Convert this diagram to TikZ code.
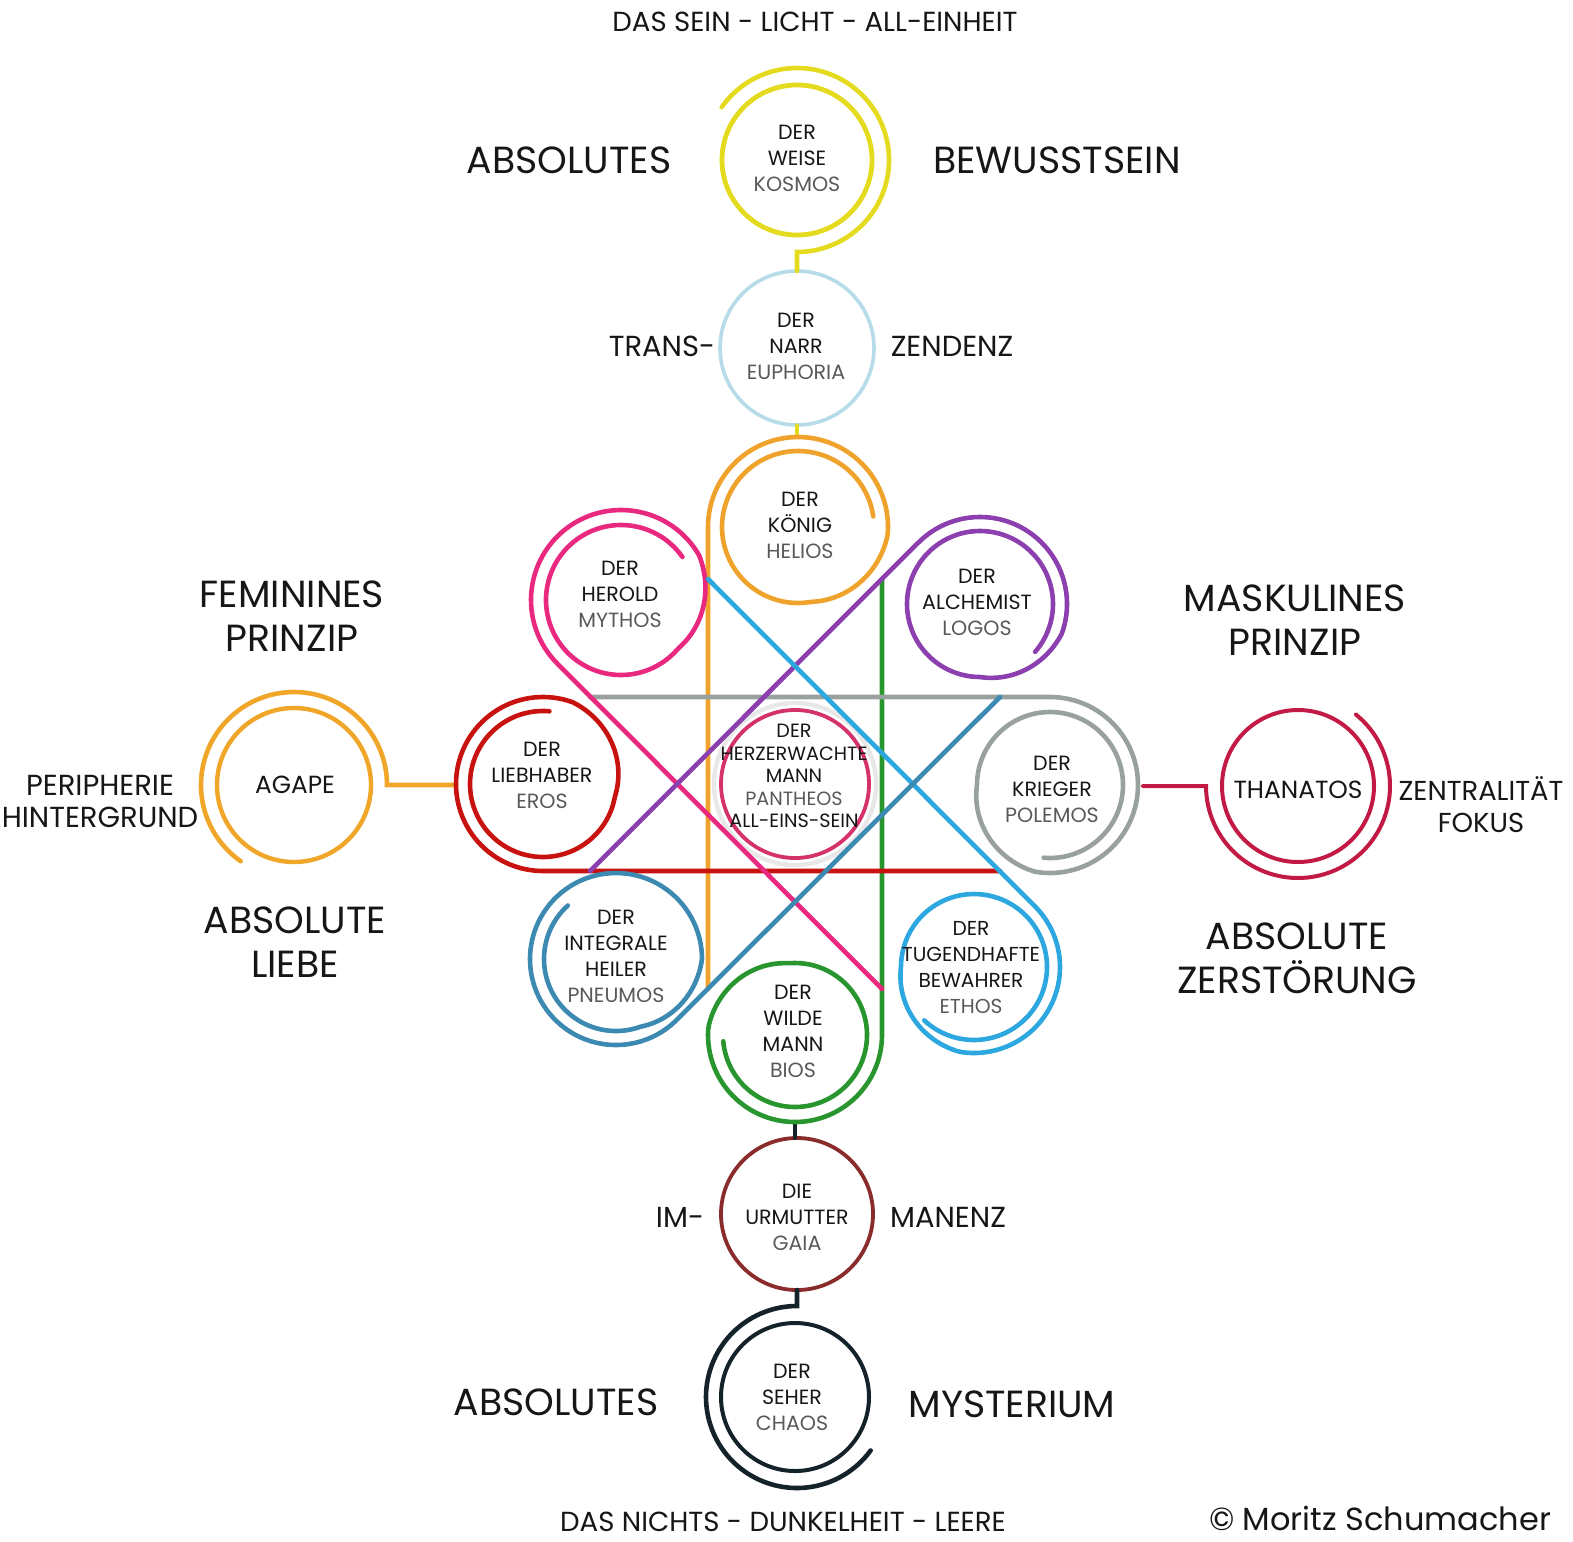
\documentclass[tikz,border=0pt]{standalone}
\usepackage{fontspec}
\setmainfont{Poppins}
\pgfmathdeclarefunction{spr}{5}{\pgfmathparse{#5+(#4-#5)*min(1,max(0,(#1-(#3))/((#2)-(#3))))}}
\newcommand\gk[1]{{\color{black!65}#1}}
\definecolor{cYel}{HTML}{E4DB1E}
\definecolor{cNarr}{HTML}{B7DCE9}
\definecolor{cOra}{HTML}{F0A32C}
\definecolor{cPink}{HTML}{E8297F}
\definecolor{cPur}{HTML}{8C3FAE}
\definecolor{cRed}{HTML}{C8120F}
\definecolor{cGray}{HTML}{99A19E}
\definecolor{cThan}{HTML}{C21A44}
\definecolor{cHerz}{HTML}{D5316A}
\definecolor{cSteel}{HTML}{3C89B1}
\definecolor{cSky}{HTML}{2CA7DF}
\definecolor{cGreen}{HTML}{28952E}
\definecolor{cUr}{HTML}{8A2C2C}
\definecolor{cSeh}{HTML}{142229}
\definecolor{cAgape}{HTML}{F0A628}
\definecolor{cTxt}{HTML}{161616}
\begin{document}
\begin{tikzpicture}[x=0.5pt,y=-0.5pt,line cap=round,
  ring/.style={draw=#1,line width=2.2pt,circle,inner sep=0pt,outer sep=0pt},
  wire/.style={draw=#1,line width=2.3pt},
  lbl/.style={align=center,inner sep=0pt,font=\fontsize{10.3}{13}\selectfont,text=cTxt},
  big/.style={align=center,inner sep=0pt,font=\fontsize{18.9}{22}\selectfont,text=cTxt},
  mid/.style={align=center,inner sep=0pt,font=\fontsize{14.5}{16}\selectfont,text=cTxt},
  head/.style={inner sep=0pt,font=\fontsize{13.8}{15}\selectfont,text=cTxt}]
\useasboundingbox (0,0) rectangle (1573,1541);

% ---- named anchor points
\coordinate (kingfoot) at (708,989);
\coordinate (koenigtop) at (798,437);
\coordinate (pinkfoot) at (882,989);
\coordinate (purfoot) at (590,871);
\coordinate (redend) at (1000,871);
\coordinate (grayend) at (590,697);
\coordinate (steelend) at (1000,697);
\coordinate (skyend) at (708,579);
\coordinate (greentop) at (882,579);
\coordinate (wildebottom) at (795,1122);
\coordinate (kriegerright) at (1143,786);
\coordinate (liebleft) at (456,785);

% ---- full rings
\node[ring=cYel,minimum size=75pt,line width=2.4pt] (weise) at (797,160) {};
\node[ring=cNarr,minimum size=77pt,line width=1.8pt] (narr) at (797,348) {};
\node[ring=black!9,minimum size=81pt,line width=2.2pt] (halo) at (795,784) {};
\node[ring=cUr,minimum size=76pt,line width=1.9pt] (urmutter) at (797,1214) {};
\node[ring=cSeh,minimum size=74pt,line width=2pt] (seher) at (795,1397) {};
\node[ring=cThan,minimum size=76pt,line width=2pt] (thanatos) at (1298,786) {};
\node[ring=cAgape,minimum size=77pt,line width=2.2pt] (agape) at (294,785) {};

% ---- vertical chain connectors and outer arcs
\draw[wire=cYel] plot[domain=215:450,samples=90] ({797+92*cos(\x)},{160+92*sin(\x)}) -- (narr.north);
\draw[wire=cYel,line width=1.6pt] (narr.south) -- (narr.south |- koenigtop);
\draw[wire=cSeh,line width=1.8pt] (wildebottom) -- (wildebottom |- urmutter.north);
\draw[wire=cSeh] plot[domain=36:270,samples=90] ({797+91*cos(\x)},{1397+91*sin(\x)}) -- (urmutter.south);
\draw[wire=cThan,line width=2pt] plot[domain=-51:180,samples=90] ({1298+92*cos(\x)},{786+92*sin(\x)}) -- (kriegerright);
\draw[wire=cAgape] plot[domain=125:360,samples=90] ({294+93*cos(\x)},{785+93*sin(\x)}) -- (liebleft);

% ---- spirals with their lines
\draw[wire=cOra] (kingfoot) -- plot[domain=180:712,samples=170] ({798+spr(\x,365,440,90,76)*cos(\x)},{527+spr(\x,365,440,90,76)*sin(\x)});
\draw[wire=cGreen] (greentop) -- plot[domain=0:535,samples=170] ({795+spr(\x,185,265,87,72)*cos(\x)},{1035+spr(\x,185,265,87,72)*sin(\x)});
\draw[wire=cGray] (grayend) -- plot[domain=270:815,samples=170] ({1050+spr(\x,460,540,88,73)*cos(\x)},{785+spr(\x,460,540,88,73)*sin(\x)});
\draw[wire=cRed] (redend) -- plot[domain=90:635,samples=170] ({543+spr(\x,290,370,87,73)*cos(\x)},{784+spr(\x,290,370,87,73)*sin(\x)});
\draw[wire=cPink] (pinkfoot) -- plot[domain=135:685,samples=170] ({621+spr(\x,330,400,90,75)*cos(\x)},{600+spr(\x,330,400,90,75)*sin(\x)});
\draw[wire=cPur] (purfoot) -- plot[domain=225:761,samples=170] ({980+spr(\x,380,450,87,73)*cos(\x)},{604+spr(\x,380,450,87,73)*sin(\x)});
\draw[wire=cSky] (skyend) -- plot[domain=315:853,samples=170] ({974+spr(\x,460,540,86,73)*cos(\x)},{967+spr(\x,460,540,86,73)*sin(\x)});
\draw[wire=cSteel] (steelend) -- plot[domain=45:588,samples=170] ({616+spr(\x,360,430,86,72)*cos(\x)},{959+spr(\x,360,430,86,72)*sin(\x)});

\node[ring=cHerz,minimum size=74pt,line width=1.9pt] (herz) at (795,784) {};

% ---- circle texts
\node[lbl] (t-weise) at (797,158) {DER\\WEISE\\\gk{KOSMOS}};
\node[lbl] (t-narr) at (796,346) {DER\\NARR\\\gk{EUPHORIA}};
\node[lbl] (t-koenig) at (800,525) {DER\\KÖNIG\\\gk{HELIOS}};
\node[lbl] (t-herold) at (620,594) {DER\\HEROLD\\\gk{MYTHOS}};
\node[lbl] (t-alch) at (977,602) {DER\\ALCHEMIST\\\gk{LOGOS}};
\node[lbl] (t-lieb) at (542,775) {DER\\LIEBHABER\\\gk{EROS}};
\node[lbl,font=\fontsize{9.6}{11.3}\selectfont] (t-herz) at (794,776) {DER\\HERZERWACHTE\\MANN\\\gk{PANTHEOS}\\ALL-EINS-SEIN};
\node[lbl] (t-krieger) at (1052,789) {DER\\KRIEGER\\\gk{POLEMOS}};
\node[lbl] (t-heiler) at (616,956) {DER\\INTEGRALE\\HEILER\\\gk{PNEUMOS}};
\node[lbl,font=\fontsize{10.1}{13}\selectfont] (t-ethos) at (971,968) {DER\\TUGENDHAFTE\\BEWAHRER\\\gk{ETHOS}};
\node[lbl] (t-wilde) at (793,1031) {DER\\WILDE\\MANN\\\gk{BIOS}};
\node[lbl] (t-ur) at (797,1217) {DIE\\URMUTTER\\\gk{GAIA}};
\node[lbl] (t-seher) at (792,1397) {DER\\SEHER\\\gk{CHAOS}};
\node[lbl,font=\fontsize{12.4}{14}\selectfont] (t-than) at (1298,790) {THANATOS};
\node[lbl,font=\fontsize{12.4}{14}\selectfont] (t-agape) at (295,785) {AGAPE};

% ---- outer labels
\node[head] (top) at (815,22) {DAS SEIN - LICHT - ALL-EINHEIT};
\node[big] (abs1) at (569,160) {ABSOLUTES};
\node[big] (bew) at (1057,160) {BEWUSSTSEIN};
\node[mid] (trans) at (662,346) {TRANS-};
\node[mid] (zend) at (952,346) {ZENDENZ};
\node[big] (fem) at (292,616) {FEMININES\\PRINZIP};
\node[big] (mask) at (1295,620) {MASKULINES\\PRINZIP};
\node[mid] (peri) at (100,801) {PERIPHERIE\\HINTERGRUND};
\node[mid,font=\fontsize{13.7}{16}\selectfont] (zent) at (1481,805) {ZENTRALITÄT\\FOKUS};
\node[big] (absl) at (295,942) {ABSOLUTE\\LIEBE};
\node[big] (absz) at (1297,958) {ABSOLUTE\\ZERSTÖRUNG};
\node[mid] (im) at (680,1217) {IM-};
\node[mid] (man) at (948,1217) {MANENZ};
\node[big] (abs2) at (556,1402) {ABSOLUTES};
\node[big] (myst) at (1012,1404) {MYSTERIUM};
\node[head] (bot) at (783,1522) {DAS NICHTS - DUNKELHEIT - LEERE};
\node[inner sep=0pt,anchor=base,font=\fontsize{16}{18}\selectfont,text=cTxt] (copy) at (1380,1530) {© Moritz Schumacher};
\end{tikzpicture}
\end{document}
